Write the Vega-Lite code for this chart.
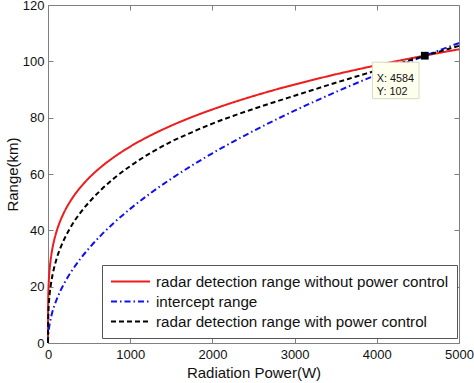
{
  "$schema": "https://vega.github.io/schema/vega-lite/v6.json",
  "autosize": {"type": "none"},
  "width": 411,
  "height": 338,
  "padding": {"left": 48, "top": 5, "right": 15, "bottom": 40},
  "background": "white",
  "config": {
    "view": {"stroke": "#808080", "strokeWidth": 1},
    "font": "Liberation Sans",
    "axis": {
      "domain": false,
      "grid": false,
      "tickColor": "#808080",
      "tickSize": -5,
      "labelFont": "Liberation Sans",
      "labelFontSize": 13,
      "labelColor": "#111111",
      "labelFlush": false,
      "labelOverlap": false,
      "titleFont": "Liberation Sans",
      "titleFontSize": 15,
      "titleFontWeight": "normal",
      "titleColor": "#111111"
    }
  },
  "resolve": {"axis": {"x": "independent", "y": "independent"}},
  "layer": [
    {
      "data": {
        "values": [
          {"P": 0, "r": 0, "b": 0, "k": 0},
          {"P": 1, "r": 12.4, "b": 1.51, "k": 6.5},
          {"P": 3, "r": 16.32, "b": 2.61, "k": 9.3},
          {"P": 6, "r": 19.41, "b": 3.69, "k": 11.7},
          {"P": 10, "r": 22.05, "b": 4.76, "k": 13.8},
          {"P": 20, "r": 26.22, "b": 6.73, "k": 17.3},
          {"P": 35, "r": 30.16, "b": 8.91, "k": 20.8},
          {"P": 50, "r": 32.97, "b": 10.65, "k": 23.4},
          {"P": 75, "r": 36.49, "b": 13.04, "k": 26.8},
          {"P": 100, "r": 39.21, "b": 15.06, "k": 29.5},
          {"P": 150, "r": 43.4, "b": 18.44, "k": 33.7},
          {"P": 200, "r": 46.63, "b": 21.3, "k": 37},
          {"P": 300, "r": 51.61, "b": 26.08, "k": 42.3},
          {"P": 400, "r": 55.45, "b": 30.12, "k": 46.5},
          {"P": 500, "r": 58.64, "b": 33.67, "k": 50.0},
          {"P": 650, "r": 62.61, "b": 38.4, "k": 54.5},
          {"P": 800, "r": 65.94, "b": 42.6, "k": 58.4},
          {"P": 1000, "r": 69.73, "b": 47.62, "k": 62.8},
          {"P": 1250, "r": 73.73, "b": 53.25, "k": 67.5},
          {"P": 1500, "r": 77.17, "b": 58.33, "k": 71.5},
          {"P": 1750, "r": 80.2, "b": 63.0, "k": 74.8},
          {"P": 2000, "r": 82.92, "b": 67.35, "k": 77.9},
          {"P": 2250, "r": 85.4, "b": 71.44, "k": 80.6},
          {"P": 2500, "r": 87.68, "b": 75.3, "k": 83.1},
          {"P": 2750, "r": 89.8, "b": 78.98, "k": 85.5},
          {"P": 3000, "r": 91.77, "b": 82.49, "k": 87.8},
          {"P": 3250, "r": 93.62, "b": 85.85, "k": 90.1},
          {"P": 3500, "r": 95.38, "b": 89.1, "k": 92.4},
          {"P": 3750, "r": 97.03, "b": 92.22, "k": 94.6},
          {"P": 4000, "r": 98.62, "b": 95.25, "k": 96.8},
          {"P": 4250, "r": 100.12, "b": 98.18, "k": 99.0},
          {"P": 4584, "r": 102.03, "b": 101.96, "k": 102},
          {"P": 4800, "r": 103.22, "b": 104.34, "k": 103.8},
          {"P": 5000, "r": 104.27, "b": 106.49, "k": 105.5}
        ]
      },
      "transform": [
        {"fold": ["r", "b", "k"], "as": ["key", "range"]},
        {"lookup": "key", "from": {"data": {"values": [
          {"key": "r", "series": "radar detection range without power control"},
          {"key": "b", "series": "intercept range"},
          {"key": "k", "series": "radar detection range with power control"}
        ]}, "key": "key", "fields": ["series"]}}
      ],
      "mark": {"type": "line", "strokeWidth": 2, "interpolate": "monotone"},
      "encoding": {
        "x": {
          "field": "P", "type": "quantitative",
          "scale": {"domain": [0, 5000], "nice": false},
          "axis": {"orient": "bottom", "values": [0, 1000, 2000, 3000, 4000, 5000], "format": "d", "title": "Radiation Power(W)", "labelPadding": 10, "titlePadding": 4}
        },
        "y": {
          "field": "range", "type": "quantitative",
          "scale": {"domain": [0, 120], "nice": false},
          "axis": {"orient": "left", "values": [0, 20, 40, 60, 80, 100, 120], "title": "Range(km)", "labelPadding": 9, "titlePadding": 2}
        },
        "color": {
          "field": "series", "type": "nominal", "title": null,
          "scale": {
            "domain": ["radar detection range without power control", "intercept range", "radar detection range with power control"],
            "range": ["#ee1c1c", "#1010f0", "#000000"]
          },
          "legend": {
            "orient": "none", "legendX": 54, "legendY": 260,
            "symbolType": "M-1,0H4.2", "symbolSize": 225, "symbolStrokeWidth": 2,
            "labelFont": "Liberation Sans", "labelFontSize": 15.2, "labelColor": "#111111",
            "labelLimit": 500, "labelOffset": 29,
            "padding": 8, "rowPadding": 3,
            "strokeColor": "#555555", "fillColor": "white"
          }
        },
        "strokeDash": {
          "field": "series", "type": "nominal", "title": null,
          "scale": {
            "domain": ["radar detection range without power control", "intercept range", "radar detection range with power control"],
            "range": [[1, 0], [6, 3, 1.5, 3], [5, 3]]
          }
        }
      }
    },
    {
      "data": {"values": [{"x": 4584, "y": 102}]},
      "mark": {"type": "rect", "fill": "#ffffee", "stroke": "#d8d8c8", "strokeWidth": 1, "xOffset": -52.4, "x2Offset": -5.8, "yOffset": 6.5, "y2Offset": 43},
      "encoding": {
        "x": {"field": "x", "type": "quantitative", "axis": {"orient": "top", "labels": false, "title": null, "values": [0, 1000, 2000, 3000, 4000, 5000]}},
        "x2": {"field": "x"},
        "y": {"field": "y", "type": "quantitative", "axis": {"orient": "right", "labels": false, "title": null, "values": [0, 20, 40, 60, 80, 100, 120]}},
        "y2": {"field": "y"}
      }
    },
    {
      "data": {"values": [{"x": 4584, "y": 102}]},
      "mark": {"type": "point", "shape": "square", "filled": true, "color": "black", "size": 60, "opacity": 1},
      "encoding": {
        "x": {"field": "x", "type": "quantitative", "axis": null},
        "y": {"field": "y", "type": "quantitative", "axis": null}
      }
    },
    {
      "data": {"values": [{"x": 4584, "y": 102, "label": "X: 4584\nY: 102"}]},
      "mark": {"type": "text", "align": "left", "baseline": "middle", "dx": -48, "dy": 23.5, "lineBreak": "\n", "lineHeight": 12.7, "fontSize": 10.8, "font": "Liberation Sans", "color": "#111111"},
      "encoding": {
        "x": {"field": "x", "type": "quantitative", "axis": null},
        "y": {"field": "y", "type": "quantitative", "axis": null},
        "text": {"field": "label"}
      }
    }
  ]
}
